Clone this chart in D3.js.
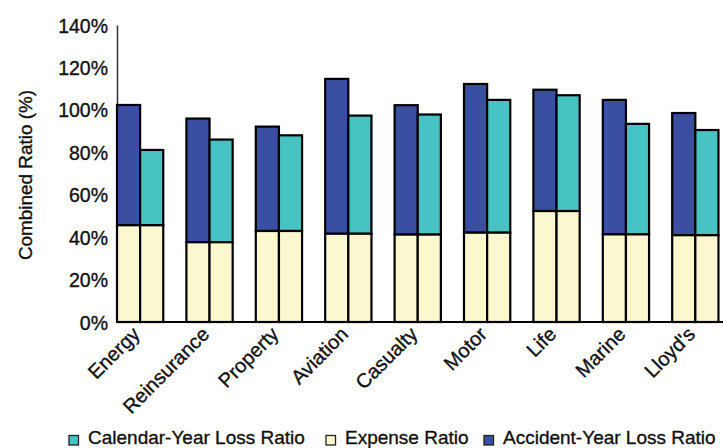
<!DOCTYPE html>
<html>
<head>
<meta charset="utf-8">
<script src="https://cdn.jsdelivr.net/npm/d3@7"></script>
<style>
  html, body { margin: 0; padding: 0; background: #fff; }
  svg text { font-family: "Liberation Sans", Arial, sans-serif; fill: #111; stroke: #111; stroke-width: 0.35px; }
</style>
</head>
<body>
<svg id="chart" width="723" height="448"></svg>
<script>
// Lines of business
const categories = ["Energy", "Reinsurance", "Property", "Aviation", "Casualty", "Motor", "Life", "Marine", "Lloyd's"];
// Combined ratios (%) by basis
const accidentYear = [102.3, 95.9, 92.1, 114.6, 102.2, 112.2, 109.5, 104.7, 98.5];
const calendarYear = [81.1, 86.0, 88.0, 97.3, 97.8, 104.7, 106.9, 93.4, 90.5];
// Expense ratio (%), shared by both bars in a group
const expenseRatio = [45.6, 37.6, 42.9, 41.6, 41.2, 42.1, 52.3, 41.3, 40.9];
const yTicks = [0, 20, 40, 60, 80, 100, 120, 140];
const legendLabels = ["Calendar-Year Loss Ratio", "Expense Ratio", "Accident-Year Loss Ratio"];

const colors = { ay: "#3A4FA1", cy: "#48C3C4", exp: "#FBF8CF" };

const svg = d3.select("#chart");
const margin = { left: 117, top: 25, bottom: 322 };
const step = 69.4;
const plotRight = margin.left + categories.length * step;

const y = d3.scaleLinear().domain([0, 140]).range([margin.bottom, margin.top]);
const x0 = d3.scaleBand().domain(categories).range([margin.left, plotRight]).padding(0);
const bw = x0.step() / 3;
const sub = d3.scaleBand().domain(["ay", "cy"]).range([0, 2 * bw]);

// Y axis: labels only, with a plain spine
const yAxis = d3.axisLeft(y).tickValues(yTicks).tickFormat(d => d + "%").tickSize(0).tickPadding(9);
const gy = svg.append("g").attr("transform", `translate(${margin.left},0)`).call(yAxis);
gy.select(".domain").attr("stroke", "#333").attr("stroke-width", 1.5);
gy.selectAll("text").style("font-size", "19.5px").attr("dy", "0.36em");

// Bars: expense at bottom, loss portion stacked up to the combined ratio
const rows = categories.map((c, i) => ({ c, ay: accidentYear[i], cy: calendarYear[i], exp: expenseRatio[i] }));
const groups = svg.append("g").selectAll("g").data(rows).join("g")
  .attr("transform", d => `translate(${x0(d.c)},0)`);

["ay", "cy"].forEach(k => {
  groups.append("rect")
    .attr("x", sub(k)).attr("width", sub.bandwidth())
    .attr("y", d => y(d[k])).attr("height", d => y(d.exp) - y(d[k]))
    .attr("fill", colors[k]).attr("stroke", "#000").attr("stroke-width", 2.2);
  groups.append("rect")
    .attr("x", sub(k)).attr("width", sub.bandwidth())
    .attr("y", d => y(d.exp)).attr("height", d => y(0) - y(d.exp))
    .attr("fill", colors.exp).attr("stroke", "#000").attr("stroke-width", 2.2);
});

// X axis baseline and rotated category labels
svg.append("line").attr("x1", margin.left).attr("x2", plotRight)
  .attr("y1", y(0)).attr("y2", y(0)).attr("stroke", "#000").attr("stroke-width", 2);
svg.append("g").selectAll("text").data(categories).join("text")
  .attr("transform", d => `translate(${x0(d) + bw + 1},${y(0) + 13.5}) rotate(-45)`)
  .attr("text-anchor", "end")
  .style("font-size", "20px").text(d => d);

// Y axis title
svg.append("text").attr("transform", `translate(32,175) rotate(-90)`)
  .attr("text-anchor", "middle").style("font-size", "18.9px").text("Combined Ratio (%)");

// Legend
const legendItems = [
  { label: legendLabels[0], color: colors.cy, x: 69 },
  { label: legendLabels[1], color: colors.exp, x: 326 },
  { label: legendLabels[2], color: colors.ay, x: 484 }
];
const lg = svg.append("g").selectAll("g").data(legendItems).join("g")
  .attr("transform", d => `translate(${d.x},444)`);
lg.append("rect").attr("x", 0).attr("y", -8.5).attr("width", 9.5).attr("height", 9.5)
  .attr("fill", d => d.color).attr("stroke", "#222").attr("stroke-width", 1.3);
lg.append("text").attr("x", 19).style("font-size", "19px").text(d => d.label);
</script>
</body>
</html>
